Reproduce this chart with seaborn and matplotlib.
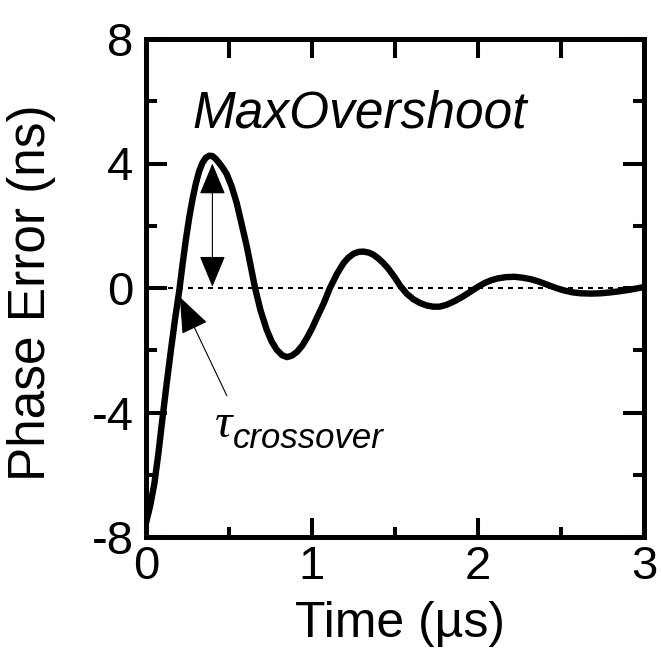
import matplotlib
matplotlib.use("Agg")
import matplotlib.pyplot as plt
import seaborn as sns
import pandas as pd

# ---- data ----
time_us = [0.0, 0.025, 0.05, 0.075, 0.1, 0.125, 0.15, 0.175, 0.2, 0.22, 0.24,
           0.26, 0.28, 0.30, 0.32, 0.34, 0.36, 0.38, 0.40, 0.42, 0.44, 0.46,
           0.486, 0.515, 0.546, 0.575, 0.607, 0.632, 0.657, 0.69, 0.727,
           0.757, 0.787, 0.82, 0.85, 0.88, 0.91, 0.94, 0.97, 1.0, 1.03, 1.07,
           1.108, 1.15, 1.19, 1.22, 1.25, 1.28, 1.31, 1.34, 1.37, 1.40, 1.43,
           1.46, 1.5, 1.53, 1.57, 1.61, 1.65, 1.69, 1.73, 1.77, 1.81, 1.86,
           1.91, 1.96, 2.0, 2.04, 2.08, 2.12, 2.17, 2.22, 2.27, 2.32, 2.37,
           2.42, 2.47, 2.52, 2.57, 2.62, 2.68, 2.74, 2.8, 2.86, 2.92, 2.96,
           3.0]
phase_err_ns = [-7.55, -7.0, -6.3, -5.3, -4.15, -3.05, -2.0, -1.0, -0.1, 0.75,
                1.55, 2.25, 2.85, 3.35, 3.75, 4.02, 4.18, 4.25, 4.24, 4.15,
                4.02, 3.88, 3.66, 3.28, 2.74, 2.08, 1.34, 0.67, 0.0, -0.72,
                -1.34, -1.72, -1.98, -2.16, -2.22, -2.17, -2.05, -1.86, -1.6,
                -1.3, -0.95, -0.5, 0.0, 0.45, 0.8, 0.98, 1.1, 1.16, 1.17, 1.14,
                1.07, 0.95, 0.8, 0.62, 0.33, 0.08, -0.18, -0.36, -0.48, -0.56,
                -0.6, -0.6, -0.54, -0.42, -0.27, -0.1, 0.04, 0.16, 0.25, 0.31,
                0.35, 0.36, 0.33, 0.28, 0.2, 0.1, 0.0, -0.08, -0.14, -0.17,
                -0.18, -0.17, -0.14, -0.1, -0.05, -0.01, 0.03]

zero_line_t = [0.13, 3.0]
overshoot_t = 0.40
overshoot_span = [0.04, 4.0]
crossover_tip = (0.204, -0.29)
crossover_tail = (0.487, -3.46)

x_ticks = [0, 1, 2, 3]
x_minor = [0.5, 1.5, 2.5]
y_ticks = [-8, -4, 0, 4, 8]
y_minor = [-6, -2, 2, 6]

x_label = "Time (µs)"
y_label = "Phase Error (ns)"
overshoot_label = "MaxOvershoot"

sns.set_style("ticks")
plt.rcParams["font.family"] = ["Liberation Sans", "DejaVu Sans"]
plt.rcParams["axes.unicode_minus"] = False
for k in ["text.color", "axes.labelcolor", "xtick.color", "ytick.color",
          "axes.edgecolor"]:
    plt.rcParams[k] = "black"

fig = plt.figure(figsize=(6.61, 6.55), dpi=100)
ax = fig.add_axes([146/661, 1 - 537/655, 498/661, 498/655])

df = pd.DataFrame({"t": time_us, "v": phase_err_ns})

ax.hlines(0, zero_line_t[0], zero_line_t[1], colors="black", lw=1.5,
          linestyles=(0, (2.4, 2.4)), zorder=2)
sns.lineplot(data=df, x="t", y="v", sort=False, color="black", lw=4.6,
             ax=ax, zorder=3)
for line in ax.lines:
    line.set_solid_joinstyle("round")
    line.set_solid_capstyle("round")

ax.set_xlim(0, 3)
ax.set_ylim(-8, 8)
ax.set_xticks(x_ticks)
ax.set_xticks(x_minor, minor=True)
ax.set_yticks(y_ticks)
ax.set_yticks(y_minor, minor=True)
ax.set_xticklabels([str(v) for v in x_ticks])
ax.set_yticklabels([str(v) for v in y_ticks])

for s in ax.spines.values():
    s.set_linewidth(3.6)
    s.set_visible(True)
    s.set_color("black")

ax.tick_params(axis="x", which="major", direction="in", length=13.5, width=2.9,
               labelsize=34, pad=6, top=False, bottom=True)
ax.tick_params(axis="x", which="minor", direction="in", length=7.2, width=2.9,
               top=False, bottom=True)
ax.tick_params(axis="y", which="major", direction="in", length=15, width=2.9,
               labelsize=34, pad=9, left=True, right=True)
ax.tick_params(axis="y", which="minor", direction="in", length=8, width=2.9,
               left=True, right=True)

top = ax.secondary_xaxis("top")
top.set_xticks(x_ticks + x_minor)
top.set_xticklabels([])
top.tick_params(direction="in", length=14, width=2.9, color="black")
top.spines["top"].set_linewidth(3.6)
top.spines["top"].set_color("black")

ax.set_xlabel(x_label, fontsize=36)
ax.xaxis.set_label_coords(0.51, -0.128)
ax.set_ylabel(y_label, fontsize=37)
ax.yaxis.set_label_coords(-0.18, 0.49)

ax.text(0.277, 5.15, overshoot_label, fontsize=37, style="italic",
        ha="left", va="baseline", color="black")

ax.annotate("", xy=(overshoot_t, overshoot_span[1]),
            xytext=(overshoot_t, overshoot_span[0]),
            arrowprops=dict(arrowstyle="<|-|>,head_length=20,head_width=8.3",
                            mutation_scale=1, lw=0.8, color="black",
                            shrinkA=0, shrinkB=0))
ax.annotate("", xy=crossover_tip, xytext=crossover_tail,
            arrowprops=dict(arrowstyle="-|>,head_length=23,head_width=9",
                            mutation_scale=1, lw=0.8, color="black",
                            shrinkA=0, shrinkB=0))

ax.text(0.416, -4.79, "τ", fontsize=35, style="italic",
        family=["Liberation Serif", "DejaVu Serif"], ha="left", va="baseline",
        color="black")
ax.text(0.524, -5.14, "crossover", fontsize=25, style="italic",
        ha="left", va="baseline", color="black")

fig.savefig("out.png", dpi=100)
